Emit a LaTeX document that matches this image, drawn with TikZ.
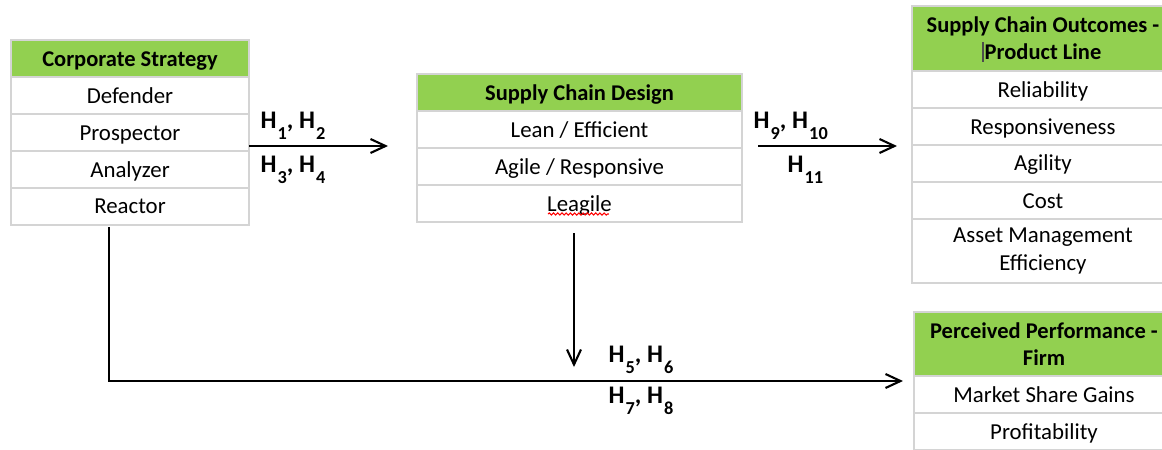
\documentclass[tikz,border=0pt]{standalone}
\usepackage{fontspec}
\setmainfont{Carlito}
\usetikzlibrary{arrows.meta, positioning, decorations.pathmorphing}
\definecolor{hdrgreen}{HTML}{92D050}
\definecolor{gridgray}{HTML}{D4D4D4}
\newcommand{\hyp}[1]{H\kern0.3pt\raisebox{-3.4pt}{\fontsize{5.2}{5.5}\selectfont #1}}

\begin{document}
\begin{tikzpicture}[
  node distance=0pt,
  box/.style={rectangle, draw=gridgray, outer sep=0pt, inner sep=0pt, align=center},
  head/.style={box, fill=hdrgreen, minimum height=0.37cm, font=\fontsize{6.4}{7.7}\selectfont\bfseries},
  cell/.style={box, fill=white, minimum height=0.37cm, font=\fontsize{6.5}{7.7}\selectfont},
  oneline/.style={text height=0.20cm, text depth=0.05cm},
  hlabel/.style={inner sep=0pt, anchor=base west, font=\fontsize{7.2}{8}\selectfont\bfseries},
  link/.style={-{Straight Barb[length=1.5mm, width=1.4mm]}, line width=0.6pt}
]
\useasboundingbox (0,0) rectangle (11.62,-4.50);

% corporate strategy
\node (corp) [head, oneline, minimum width=2.38cm, anchor=north west] at (0.11,-0.40) {Corporate Strategy};
\node (defender) [cell, oneline, minimum width=2.38cm, below=of corp] {Defender};
\node (prospector) [cell, oneline, minimum width=2.38cm, below=of defender] {Prospector};
\node (analyzer) [cell, oneline, minimum width=2.38cm, below=of prospector] {Analyzer};
\node (reactor) [cell, oneline, minimum width=2.38cm, below=of analyzer] {Reactor};

% supply chain design
\node (design) [head, oneline, minimum width=3.25cm, anchor=north west] at (4.17,-0.74) {Supply Chain Design};
\node (lean) [cell, oneline, minimum width=3.25cm, below=of design] {Lean / Efficient};
\node (agile) [cell, oneline, minimum width=3.25cm, below=of lean] {Agile / Responsive};
\node (leagile) [cell, oneline, minimum width=3.25cm, below=of agile] {Leagile};
\draw [red, line width=0.3pt, decorate, decoration={snake, amplitude=0.3pt, segment length=1.2pt}]
  (5.48,-2.14) -- (6.09,-2.14);

% supply chain outcomes
\node (outcomes) [head, minimum width=2.62cm, minimum height=0.65cm, anchor=north west] at (9.12,-0.06)
  {Supply Chain Outcomes -\\Product Line};
\node (reliab) [cell, oneline, minimum width=2.62cm, below=of outcomes] {Reliability};
\node (respons) [cell, oneline, minimum width=2.62cm, below=of reliab] {Responsiveness};
\node (agility) [cell, oneline, minimum width=2.62cm, below=of respons] {Agility};
\node (cost) [cell, oneline, minimum width=2.62cm, below=of agility] {Cost};
\node (asset) [cell, minimum width=2.62cm, minimum height=0.64cm, below=of cost] {Asset Management\\Efficiency};
\draw [black!70, line width=0.3pt] (9.83,-0.42) -- (9.83,-0.62);

% perceived performance
\node (perf) [head, minimum width=2.60cm, minimum height=0.64cm, anchor=north west] at (9.14,-3.12)
  {Perceived Performance -\\Firm};
\node (share) [cell, oneline, minimum width=2.60cm, below=of perf] {Market Share Gains};
\node (profit) [cell, oneline, minimum width=2.60cm, below=of share] {Profitability};

% arrows
\coordinate (strat-end) at (3.88,-1.46);
\coordinate (out-start) at (7.58,-1.46);
\coordinate (out-end) at (8.97,-1.46);
\coordinate (design-out) at (5.74,-2.33);
\coordinate (design-end) at (5.74,-3.67);
\coordinate (corp-out) at (1.09,-2.27);
\coordinate (perf-in) at (9.03,-3.81);

\draw [link] (prospector.east |- strat-end) -- (strat-end);
\draw [link] (out-start) -- (out-end);
\draw [link] (design-out) -- (design-end);
\draw [link] (corp-out) |- (perf-in);

% hypotheses
\node (h12) [hlabel] at (2.60,-1.28) {\hyp{1}, \hyp{2}};
\node (h34) [hlabel] at (2.60,-1.72) {\hyp{3}, \hyp{4}};
\node (h910) [hlabel] at (7.53,-1.28) {\hyp{9}, \hyp{10}};
\node (h11) [hlabel] at (7.87,-1.72) {\hyp{11}};
\node (h56) [hlabel] at (6.08,-3.62) {\hyp{5}, \hyp{6}};
\node (h78) [hlabel] at (6.08,-4.03) {\hyp{7}, \hyp{8}};

\end{tikzpicture}
\end{document}
